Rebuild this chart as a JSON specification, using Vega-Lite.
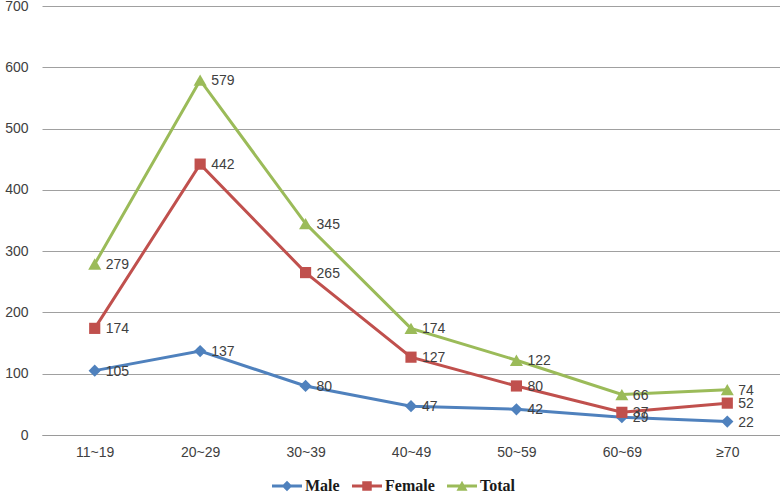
{
  "$schema": "https://vega.github.io/schema/vega-lite/v6.json",
  "width": 738,
  "height": 429,
  "autosize": "none",
  "padding": {"left": 42, "top": 6, "right": 0, "bottom": 62},
  "background": "white",
  "config": {
    "view": {"stroke": null},
    "font": "Liberation Sans"
  },
  "data": {
    "values": [
      {"age": "11~19", "series": "Male", "value": 105},
      {"age": "20~29", "series": "Male", "value": 137},
      {"age": "30~39", "series": "Male", "value": 80},
      {"age": "40~49", "series": "Male", "value": 47},
      {"age": "50~59", "series": "Male", "value": 42},
      {"age": "60~69", "series": "Male", "value": 29},
      {"age": "≥70", "series": "Male", "value": 22},
      {"age": "11~19", "series": "Female", "value": 174},
      {"age": "20~29", "series": "Female", "value": 442},
      {"age": "30~39", "series": "Female", "value": 265},
      {"age": "40~49", "series": "Female", "value": 127},
      {"age": "50~59", "series": "Female", "value": 80},
      {"age": "60~69", "series": "Female", "value": 37},
      {"age": "≥70", "series": "Female", "value": 52},
      {"age": "11~19", "series": "Total", "value": 279},
      {"age": "20~29", "series": "Total", "value": 579},
      {"age": "30~39", "series": "Total", "value": 345},
      {"age": "40~49", "series": "Total", "value": 174},
      {"age": "50~59", "series": "Total", "value": 122},
      {"age": "60~69", "series": "Total", "value": 66},
      {"age": "≥70", "series": "Total", "value": 74}
    ]
  },
  "encoding": {
    "x": {
      "field": "age", "type": "ordinal", "sort": null,
      "scale": {"type": "point", "padding": 0.5},
      "axis": {"title": null, "labelAngle": 0, "labelFontSize": 14, "labelColor": "#404040", "labelPadding": 10, "ticks": false, "domainColor": "#9a9a9a", "grid": false}
    },
    "y": {
      "field": "value", "type": "quantitative",
      "scale": {"domain": [0, 700]},
      "axis": {"title": null, "values": [0,100,200,300,400,500,600,700], "labelFontSize": 14, "labelColor": "#404040", "labelPadding": 14, "ticks": false, "domain": false, "gridColor": "#a0a0a0", "gridWidth": 1}
    },
    "color": {
      "field": "series", "type": "nominal",
      "scale": {"domain": ["Male", "Female", "Total"], "range": ["#4F81BD", "#C0504D", "#9BBB59"]},
      "legend": {
        "title": null, "orient": "none", "direction": "horizontal",
        "legendX": 230, "legendY": 472,
        "labelFont": "Liberation Serif", "labelFontWeight": "bold", "labelFontSize": 16, "labelColor": "#1a1a1a",
        "symbolSize": 100, "symbolStrokeWidth": 0, "labelOffset": 17, "columnPadding": 12,
        "encode": {
          "symbols": {
            "update": {
              "xc": {"value": 15},
              "strokeWidth": {"value": 0},
              "opacity": {"value": 1}
            }
          }
        }
      }
    }
  },
  "layer": [
    {
      "mark": {"type": "line", "strokeWidth": 3},
      "encoding": {"detail": {"field": "series"}}
    },
    {
      "mark": {"type": "point", "filled": true, "opacity": 0},
      "encoding": {
        "shape": {
          "field": "series", "type": "nominal",
          "scale": {"domain": ["Male", "Female", "Total"], "range": ["M-3,-0.28H3V0.28H-3Z M0,-1.05L1.05,0L0,1.05L-1.05,0Z", "M-3,-0.28H3V0.28H-3Z M-0.95,-0.95H0.95V0.95H-0.95Z", "M-3,-0.28H3V0.28H-3Z M0,-1.05L1.1,0.95H-1.1Z"]},
          "legend": {"title": null}
        }
      }
    },
    {
      "transform": [{"filter": "datum.series === 'Male'"}],
      "mark": {"type": "point", "filled": true, "opacity": 1, "shape": "diamond", "size": 150}
    },
    {
      "transform": [{"filter": "datum.series === 'Female'"}],
      "mark": {"type": "point", "filled": true, "opacity": 1, "shape": "square", "size": 125}
    },
    {
      "transform": [{"filter": "datum.series === 'Total'"}],
      "mark": {"type": "point", "filled": true, "opacity": 1, "shape": "triangle-up", "size": 170}
    },
    {
      "mark": {"type": "text", "align": "left", "baseline": "middle", "dx": 11, "dy": 1, "fontSize": 14, "color": "#404040"},
      "encoding": {
        "text": {"field": "value", "type": "quantitative"},
        "color": {"value": "#404040"}
      }
    }
  ]
}
